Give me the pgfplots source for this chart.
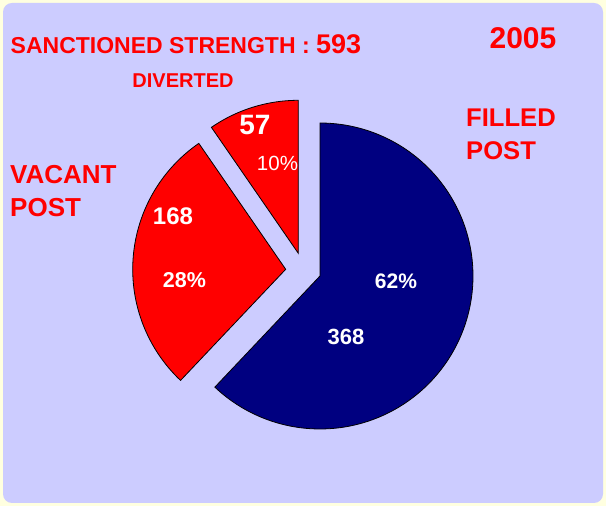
\documentclass[border=0pt]{standalone}
\usepackage{pgfplots}
\usepackage{pgfplotstable}
\pgfplotsset{compat=1.18}
\usepackage{fontspec}
\setmainfont{Liberation Sans}
\definecolor{bgout}{HTML}{FFFFE0}
\definecolor{bgin}{HTML}{CCCCFF}
\definecolor{navyblue}{HTML}{000080}
\definecolor{pred}{HTML}{FF0000}

% slice values and (exploded) centres in pixel units (y measured upwards)
\pgfplotstableread{
name     value  cx     cy
filled   368    320    230
vacant   168    285.7  236.7
diverted 57     298.3  252.7
}\piedata

\newcommand\fs[1]{\fontsize{#1}{#1}\selectfont}

\begin{document}
\begin{tikzpicture}
\pgfplotstablegetelem{0}{value}\of\piedata \let\vF\pgfplotsretval
\pgfplotstablegetelem{1}{value}\of\piedata \let\vV\pgfplotsretval
\pgfplotstablegetelem{2}{value}\of\piedata \let\vD\pgfplotsretval
\pgfplotstablegetelem{0}{cx}\of\piedata \let\cxF\pgfplotsretval
\pgfplotstablegetelem{0}{cy}\of\piedata \let\cyF\pgfplotsretval
\pgfplotstablegetelem{1}{cx}\of\piedata \let\cxV\pgfplotsretval
\pgfplotstablegetelem{1}{cy}\of\piedata \let\cyV\pgfplotsretval
\pgfplotstablegetelem{2}{cx}\of\piedata \let\cxD\pgfplotsretval
\pgfplotstablegetelem{2}{cy}\of\piedata \let\cyD\pgfplotsretval
\pgfmathsetmacro\tot{\vF+\vV+\vD}
\pgfmathsetmacro\aD{90+\vD/\tot*360}
\pgfmathsetmacro\aV{\aD+\vV/\tot*360}
\pgfmathsetmacro\aF{\aV-360}
\def\R{153}
\fill[bgout] (0,0) rectangle (606pt,506pt);
\fill[bgin, rounded corners=9pt] (3pt,3pt) rectangle (603pt,503pt);
\begin{axis}[
  x=1pt, y=1pt, xmin=0, xmax=606, ymin=0, ymax=506,
  scale only axis, hide axis, clip=false,
]
\addplot[fill=navyblue, draw=black, line width=0.8pt, domain=\aF:90, samples=150, variable=\t]
  ({\cxF+\R*cos(\t)},{\cyF+\R*sin(\t)}) -- (axis cs:\cxF,\cyF) -- cycle;
\addplot[fill=pred, draw=black, line width=0.8pt, domain=\aD:\aV, samples=80, variable=\t]
  ({\cxV+\R*cos(\t)},{\cyV+\R*sin(\t)}) -- (axis cs:\cxV,\cyV) -- cycle;
\addplot[fill=pred, draw=black, line width=0.8pt, domain=90:\aD, samples=40, variable=\t]
  ({\cxD+\R*cos(\t)},{\cyD+\R*sin(\t)}) -- (axis cs:\cxD,\cyD) -- cycle;

% titles
\node[anchor=base west, inner sep=0, text=pred, font=\bfseries] at (axis cs:10.5,452)
  {\fs{23}SANCTIONED STRENGTH : \fs{27}593};
\node[inner sep=0, text=pred, font=\bfseries\fs{30}] at (axis cs:523,467.7) {2005};
\node[inner sep=0, text=pred, font=\bfseries\fs{20}] at (axis cs:183,425) {DIVERTED};
\node[anchor=west, inner sep=0, text=pred, font=\bfseries\fs{25.6}] at (axis cs:466,388.5) {FILLED};
\node[anchor=west, inner sep=0, text=pred, font=\bfseries\fs{25.6}] at (axis cs:466,355.5) {POST};
\node[anchor=west, inner sep=0, text=pred, font=\bfseries\fs{26}] at (axis cs:10,331.3) {VACANT};
\node[anchor=west, inner sep=0, text=pred, font=\bfseries\fs{26}] at (axis cs:10,298) {POST};

% slice labels
\node[inner sep=0, text=white, font=\bfseries\fs{28}] at (axis cs:255,381) {57};
\node[inner sep=0, text=white, font=\fs{20.5}] at (axis cs:277.5,343) {10\%};
\node[inner sep=0, text=white, font=\bfseries\fs{24}] at (axis cs:173,290) {168};
\node[inner sep=0, text=white, font=\bfseries\fs{21.5}] at (axis cs:184.5,226) {28\%};
\node[inner sep=0, text=white, font=\bfseries\fs{21}] at (axis cs:396,225) {62\%};
\node[inner sep=0, text=white, font=\bfseries\fs{22}] at (axis cs:346,169.3) {368};
\end{axis}
\end{tikzpicture}
\end{document}
